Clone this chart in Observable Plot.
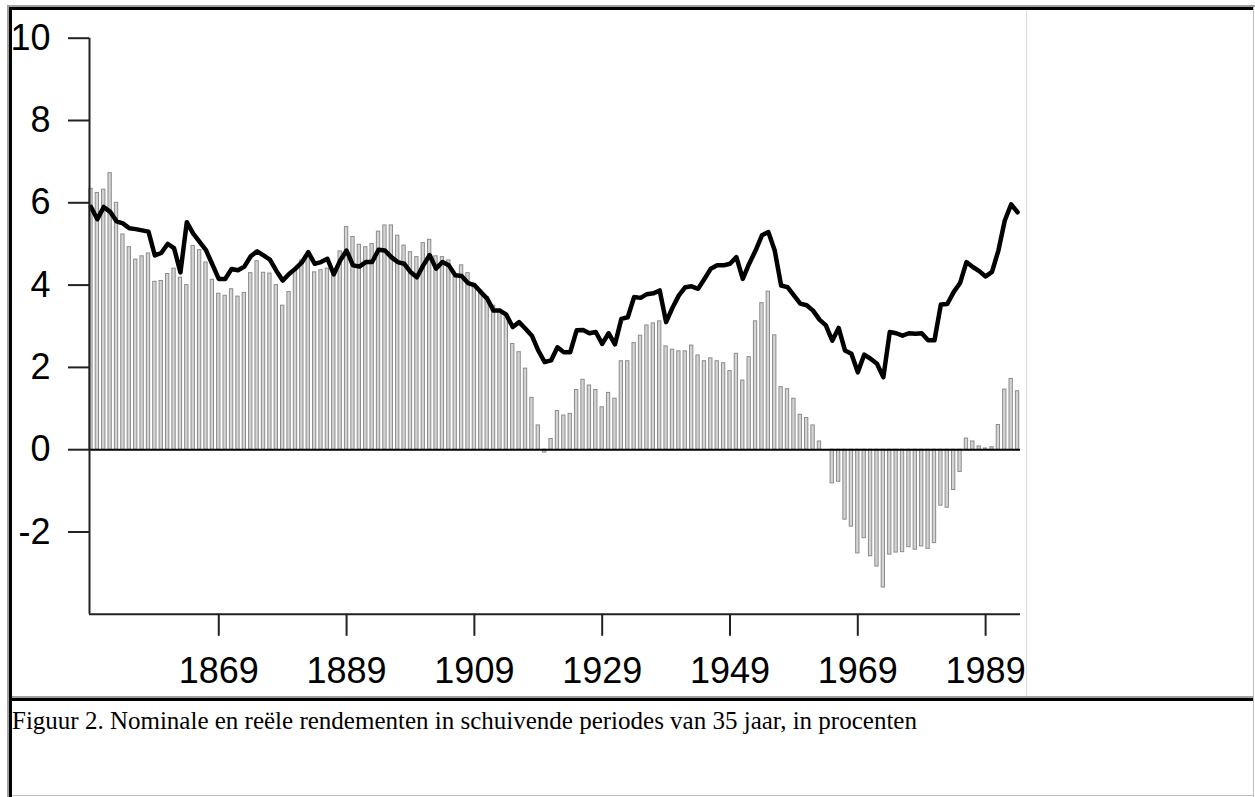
<!DOCTYPE html>
<html>
<head>
<meta charset="utf-8">
<script src="https://cdn.jsdelivr.net/npm/d3@7"></script>
<script src="https://cdn.jsdelivr.net/npm/@observablehq/plot@0.6"></script>
<style>
  html, body { margin: 0; padding: 0; background: #fff; }
  body { width: 1255px; height: 797px; position: relative; overflow: hidden; }
  .b { position: absolute; z-index: 5; }
  #chart { position: absolute; left: 0; top: 0; z-index: 1; }
  #caption { position: absolute; left: 12px; top: 708px; font-family: "Liberation Serif", "Times New Roman", serif; font-size: 25px; line-height: 25px; color: #000; white-space: nowrap; z-index: 2; }
</style>
</head>
<body>
<div id="chart"></div>
<div id="caption">Figuur 2. Nominale en reële rendementen in schuivende periodes van 35 jaar, in procenten</div>
<!-- table frame -->
<div class="b" style="left:7px;top:5px;width:1248px;height:2px;background:#a0a0a0"></div>
<div class="b" style="left:7px;top:5px;width:2px;height:792px;background:#a0a0a0"></div>
<div class="b" style="left:9px;top:7px;width:1244px;height:3px;background:#000"></div>
<div class="b" style="left:9px;top:7px;width:3px;height:790px;background:#000"></div>
<div class="b" style="left:1253px;top:7px;width:1px;height:790px;background:#c0c0c0"></div>
<div class="b" style="left:12px;top:696px;width:1241px;height:2px;background:#a0a0a0"></div>
<div class="b" style="left:9px;top:698px;width:1244px;height:3px;background:#000"></div>
<div class="b" style="left:12px;top:795px;width:1241px;height:1px;background:#c0c0c0"></div>
<div class="b" style="left:1026px;top:10px;width:1px;height:686px;background:#dcdcdc"></div>
<script>
// ---- data ----
const startYear = 1849;
// real returns (bars), one value per year 1849..1994
const realReturns = [
  6.34, 6.24, 6.32, 6.72, 6.00, 5.23, 4.92, 4.62, 4.70, 4.77,   // 1849-1858
  4.08, 4.10, 4.27, 4.40, 4.18, 4.00, 4.95, 4.85, 4.55, 4.13,   // 1859-1868
  3.79, 3.74, 3.90, 3.72, 3.81, 4.29, 4.58, 4.30, 4.28, 4.00,   // 1869-1878
  3.50, 3.83, 4.35, 4.60, 4.68, 4.31, 4.36, 4.40, 4.24, 4.82,   // 1879-1888
  5.41, 5.17, 4.98, 4.92, 5.00, 5.30, 5.45, 5.45, 5.20, 4.96,   // 1889-1898
  4.80, 4.68, 5.02, 5.10, 4.70, 4.68, 4.60, 4.20, 4.48, 4.29,   // 1899-1908
  4.03, 3.87, 3.71, 3.50, 3.40, 3.30, 2.57, 2.37, 1.97, 1.26,   // 1909-1918
  0.59, -0.07, 0.26, 0.94, 0.83, 0.87, 1.45, 1.70, 1.56, 1.45,  // 1919-1928
  1.03, 1.38, 1.24, 2.15, 2.15, 2.59, 2.77, 3.02, 3.07, 3.12,   // 1929-1938
  2.51, 2.43, 2.39, 2.39, 2.53, 2.29, 2.15, 2.22, 2.15, 2.10,   // 1939-1948
  1.91, 2.33, 1.68, 2.25, 3.12, 3.56, 3.84, 2.78, 1.52, 1.47,   // 1949-1958
  1.24, 0.85, 0.77, 0.59, 0.20, 0.00, -0.82, -0.78, -1.70, -1.87, // 1959-1968
  -2.52, -2.15, -2.59, -2.84, -3.35, -2.55, -2.50, -2.49, -2.37, -2.43, // 1969-1978
  -2.35, -2.41, -2.27, -1.36, -1.41, -0.98, -0.54, 0.27, 0.20, 0.08, // 1979-1988
  0.03, 0.06, 0.60, 1.46, 1.72, 1.42                              // 1989-1994
];
// nominal returns (line), one value per year 1849..1994
const nominalReturns = [
  5.90, 5.60, 5.90, 5.78, 5.55, 5.50, 5.38, 5.36, 5.33, 5.30,   // 1849-1858
  4.72, 4.78, 5.00, 4.90, 4.31, 5.53, 5.25, 5.05, 4.85, 4.50,   // 1859-1868
  4.15, 4.15, 4.39, 4.36, 4.45, 4.70, 4.82, 4.72, 4.62, 4.35,   // 1869-1878
  4.11, 4.27, 4.40, 4.55, 4.80, 4.52, 4.56, 4.64, 4.26, 4.60,   // 1879-1888
  4.84, 4.48, 4.45, 4.56, 4.56, 4.86, 4.84, 4.68, 4.56, 4.52,   // 1889-1898
  4.32, 4.19, 4.48, 4.73, 4.40, 4.56, 4.48, 4.24, 4.22, 4.05,   // 1899-1908
  4.00, 3.83, 3.67, 3.38, 3.38, 3.28, 2.98, 3.10, 2.94, 2.77,   // 1909-1918
  2.41, 2.13, 2.17, 2.49, 2.37, 2.37, 2.90, 2.91, 2.83, 2.86,   // 1919-1928
  2.57, 2.83, 2.56, 3.18, 3.22, 3.71, 3.69, 3.78, 3.80, 3.87,   // 1929-1938
  3.10, 3.45, 3.75, 3.95, 3.97, 3.91, 4.15, 4.40, 4.48, 4.48,   // 1939-1948
  4.52, 4.68, 4.15, 4.52, 4.84, 5.21, 5.29, 4.84, 3.99, 3.95,   // 1949-1958
  3.75, 3.55, 3.51, 3.38, 3.16, 3.02, 2.65, 2.96, 2.41, 2.33,   // 1959-1968
  1.88, 2.31, 2.21, 2.09, 1.76, 2.86, 2.83, 2.77, 2.83, 2.82,   // 1969-1978
  2.83, 2.66, 2.66, 3.53, 3.54, 3.83, 4.05, 4.56, 4.44, 4.34,   // 1979-1988
  4.21, 4.32, 4.84, 5.57, 5.96, 5.77                              // 1989-1994
];
const yTicks = [-2, 0, 2, 4, 6, 8, 10];
const xTicks = [1869, 1889, 1909, 1929, 1949, 1969, 1989];

const years = realReturns.map((_, i) => startYear + i);
const bars = years.map((year, i) => ({year, real: realReturns[i]}));
const line = years.map((year, i) => ({year, nominal: nominalReturns[i]}));

const xMin = 1848.77, xMax = 1994.46;

const chart = Plot.plot({
  width: 1255,
  height: 696,
  marginLeft: 89,
  marginRight: 235,
  marginTop: 37.7,
  marginBottom: 82.2,
  style: {background: "transparent", fontFamily: "'Liberation Sans', Arial, Helvetica, sans-serif", fontSize: "36px", color: "#000", overflow: "visible"},
  x: {domain: [xMin, xMax]},
  y: {domain: [-4, 10]},
  marks: [
    Plot.rect(bars, {x1: d => d.year - 0.26, x2: d => d.year + 0.26, y1: 0, y2: "real", fill: "#d4d4d4", stroke: "#8c8c8c", strokeWidth: 1}),
    Plot.ruleY([0], {stroke: "#000", strokeWidth: 2}),
    Plot.line(line, {x: "year", y: "nominal", stroke: "#000", strokeWidth: 4.5, strokeLinejoin: "round", strokeLinecap: "round"}),
    Plot.ruleX([xMin], {y1: -4, y2: 10, stroke: "#222", strokeWidth: 2}),
    Plot.ruleY([-4], {x1: xMin, x2: xMax, stroke: "#222", strokeWidth: 2}),
    Plot.axisY({ticks: yTicks, tickSize: 21, tickPadding: 18, tickFormat: d => String(d), stroke: "#222", strokeWidth: 2, fill: "#000", label: null}),
    Plot.axisX({ticks: xTicks, tickSize: 22, tickPadding: 21, tickFormat: d => String(d), stroke: "#222", strokeWidth: 2, fill: "#000", label: null})
  ]
});
document.getElementById("chart").appendChild(chart);
</script>
</body>
</html>
